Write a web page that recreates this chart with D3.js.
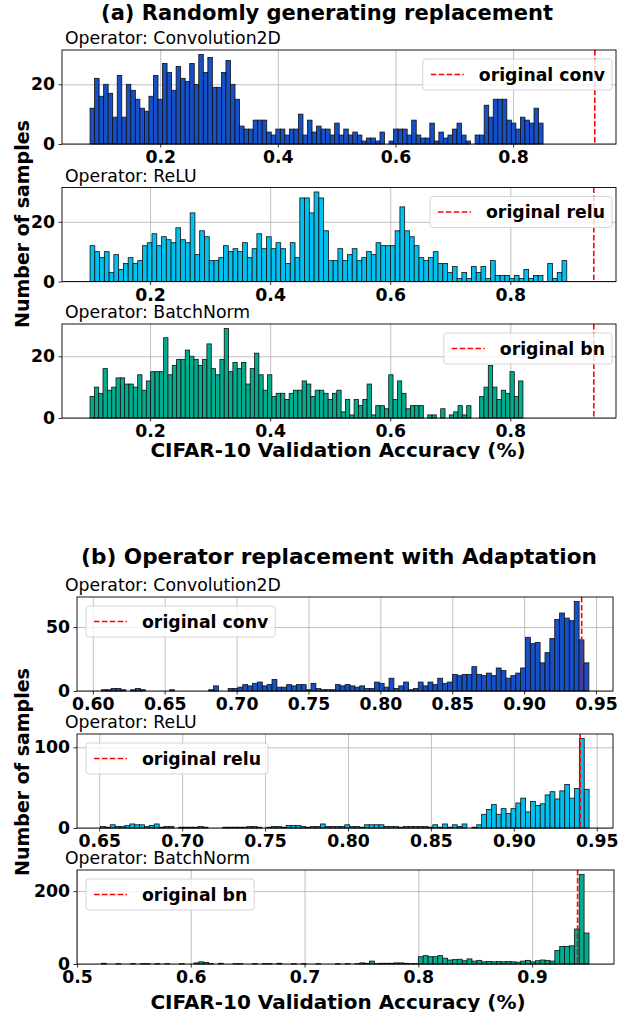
<!DOCTYPE html>
<html>
<head>
<meta charset="utf-8">
<script src="https://cdn.jsdelivr.net/npm/d3@7.9.0/dist/d3.min.js"></script>
<style>
  body { margin: 0; background: #fff; }
  svg { display: block; font-family: "DejaVu Sans", sans-serif; }
</style>
</head>
<body>
<svg id="chart" width="638" height="1014"></svg>
<script>
// histogram counts (100 bins each)
const convRandom = [12,22,16,20,17,9,23,9,20,18,15,12,11,16,23,15,27,24,18,26,22,21,27,20,30,24,29,19,19,24,
  28,20,15,6,5,5,8,8,8,4,3,5,5,3,5,5,10,3,8,4,6,5,5,3,7,3,5,3,4,3,
  1,2,2,1,4,0,1,5,5,5,3,8,3,2,2,7,1,4,2,3,5,7,3,1,0,3,3,13,9,15,
  15,15,8,7,5,9,8,7,12,7];
const reluRandom = [12,10,8,10,3,9,4,6,8,6,7,12,13,16,12,15,14,13,18,14,13,23,9,17,15,7,7,8,12,10,
  11,10,13,8,11,16,11,15,11,13,11,6,13,8,28,28,23,30,28,17,7,7,11,7,9,11,7,8,10,9,
  13,12,12,12,17,25,17,15,12,8,7,8,10,6,6,3,5,1,3,1,5,3,5,1,7,2,2,2,1,2,
  1,4,1,2,2,0,6,1,3,7];
const bnRandom = [7,10,8,16,9,10,13,13,11,11,10,14,9,12,15,15,15,26,14,17,19,19,22,20,19,17,19,24,16,14,
  19,29,15,18,16,18,11,16,21,14,9,14,7,8,8,6,8,9,9,12,11,7,9,9,8,6,8,9,2,6,
  1,6,4,6,11,1,4,4,3,14,6,12,8,3,4,4,4,0,1,1,0,3,0,1,2,4,1,4,0,0,
  7,10,17,10,6,9,8,15,7,12];
const convAdapt = [1,1,2,2,1,0,1,2,1,0,0,0,0,0,1,0,0,0,0,0,0,0,1,4,0,0,2,2,3,5,
  4,6,7,4,5,9,3,3,5,4,5,5,1,6,2,1,1,1,5,4,5,4,3,4,2,2,7,6,3,10,
  2,4,7,1,2,7,4,7,5,10,6,7,13,12,13,13,19,13,12,14,12,18,16,10,12,14,18,42,37,38,
  22,30,41,56,61,57,55,70,40,22];
const reluAdapt = [2,1,4,2,2,3,5,4,4,2,3,5,1,2,2,0,1,1,1,1,2,1,0,0,0,1,1,1,1,1,
  2,2,1,0,1,2,2,1,3,3,3,2,1,2,2,5,2,2,2,2,4,2,2,1,4,4,4,4,2,2,
  2,1,2,2,2,2,2,1,4,1,5,1,4,2,5,0,1,4,17,23,29,17,24,18,24,31,37,20,33,28,
  30,41,45,36,46,54,37,49,111,48];
const bnAdapt = [2,0,0,1,0,0,1,0,1,1,0,1,0,1,0,0,1,0,0,3,6,4,1,0,2,0,0,1,1,0,
  0,1,0,1,1,0,2,0,0,1,0,1,0,0,1,0,0,0,1,0,1,0,1,3,2,8,1,2,2,2,
  3,3,2,1,1,20,23,20,20,23,16,11,12,13,9,14,8,10,6,7,6,7,6,7,6,5,8,10,6,9,
  11,10,8,37,48,48,50,96,246,85];

// accuracy range covered by the bins
const convRandomRange = [0.0807, 0.851];
const reluRandomRange = [0.100, 0.894];
const bnRandomRange = [0.100, 0.821];
const convAdaptRange = [0.606, 0.945];
const reluAdaptRange = [0.6508, 0.9454];
const bnAdaptRange = [0.5214, 0.950];

// original accuracy (red dashed line)
const originalRandom = 0.939;
const originalAdapt = 0.940;

// tick values
const ticksA = [0.2, 0.4, 0.6, 0.8];
const ticksB1 = [0.60, 0.65, 0.70, 0.75, 0.80, 0.85, 0.90, 0.95];
const ticksB2 = [0.65, 0.70, 0.75, 0.80, 0.85, 0.90, 0.95];
const ticksB3 = [0.5, 0.6, 0.7, 0.8, 0.9];

const colors = { conv: "#1650c8", relu: "#00c0f0", bn: "#00ad8e" };

const svg = d3.select("#chart");
const FONT = 17.3;

function drawPanel(p) {
  const g = svg.append("g");
  const x = d3.scaleLinear().domain(p.xDomain).range([p.left, p.right]);
  const y = d3.scaleLinear().domain([0, p.yMax]).range([p.bottom, p.top]);

  // grid lines
  g.append("g")
    .attr("transform", `translate(0,${p.bottom})`)
    .call(d3.axisBottom(x).tickValues(p.xTicks).tickSize(p.top - p.bottom).tickFormat(""))
    .call((a) => a.select(".domain").remove())
    .selectAll("line").attr("stroke", "#b0b0b0").attr("stroke-width", 0.8);
  g.append("g")
    .attr("transform", `translate(${p.left},0)`)
    .call(d3.axisLeft(y).tickValues(p.yTicks).tickSize(p.left - p.right).tickFormat(""))
    .call((a) => a.select(".domain").remove())
    .selectAll("line").attr("stroke", "#b0b0b0").attr("stroke-width", 0.8);

  // bars
  const n = p.counts.length;
  const step = (p.range[1] - p.range[0]) / n;
  g.append("g")
    .selectAll("rect")
    .data(p.counts)
    .join("rect")
    .attr("x", (d, i) => x(p.range[0] + i * step))
    .attr("width", (d, i) => x(p.range[0] + (i + 1) * step) - x(p.range[0] + i * step))
    .attr("y", (d) => y(d))
    .attr("height", (d) => y(0) - y(d))
    .attr("fill", p.color)
    .attr("stroke", "#111")
    .attr("stroke-width", 0.8);

  // original accuracy line
  g.append("line")
    .attr("x1", x(p.original)).attr("x2", x(p.original))
    .attr("y1", p.top).attr("y2", p.bottom)
    .attr("stroke", "#ff0000")
    .attr("stroke-width", 1.6)
    .attr("stroke-dasharray", "5.5,2.4");

  // frame
  g.append("rect")
    .attr("x", p.left).attr("y", p.top)
    .attr("width", p.right - p.left).attr("height", p.bottom - p.top)
    .attr("fill", "none").attr("stroke", "#000").attr("stroke-width", 0.9);

  // axes
  const ax = g.append("g")
    .attr("transform", `translate(0,${p.bottom})`)
    .call(d3.axisBottom(x).tickValues(p.xTicks).tickSize(3.5).tickPadding(3.5).tickFormat(d3.format(p.xFormat)));
  const ay = g.append("g")
    .attr("transform", `translate(${p.left},0)`)
    .call(d3.axisLeft(y).tickValues(p.yTicks).tickSize(3.5).tickPadding(3.5).tickFormat(d3.format("d")));
  [ax, ay].forEach((a) => {
    a.select(".domain").remove();
    a.selectAll("line").attr("stroke", "#000").attr("stroke-width", 0.8);
    a.selectAll("text")
      .attr("fill", "#000")
      .style("font-size", FONT + "px")
      .style("font-weight", "bold")
      .style("font-family", "DejaVu Sans");
  });

  // operator title
  g.append("text")
    .attr("x", 65).attr("y", p.top - 6)
    .style("font-size", FONT + "px")
    .text(p.title);

  // legend
  const lg = g.append("g");
  const label = lg.append("text")
    .style("font-size", FONT + "px")
    .style("font-weight", "bold")
    .text(p.legend);
  const tw = label.node().getComputedTextLength();
  const bw = 8 + 33 + 15 + tw + 7;
  const bh = 31;
  const bx = p.legendSide === "right" ? p.right - 4 - bw : p.left + 9;
  const by = p.top + 9;
  lg.insert("rect", "text")
    .attr("x", bx).attr("y", by).attr("width", bw).attr("height", bh)
    .attr("rx", 3)
    .attr("fill", "#fff").attr("fill-opacity", 0.8)
    .attr("stroke", "#d0d0d0").attr("stroke-width", 0.9);
  lg.append("line")
    .attr("x1", bx + 8).attr("x2", bx + 41)
    .attr("y1", by + bh / 2).attr("y2", by + bh / 2)
    .attr("stroke", "#ff0000").attr("stroke-width", 1.6)
    .attr("stroke-dasharray", "5.5,2.4");
  label.attr("x", bx + 56).attr("y", by + bh / 2 + 6);
}

const panels = [
  { title: "Operator: Convolution2D", counts: convRandom, range: convRandomRange, color: colors.conv,
    legend: "original conv", original: originalRandom, xDomain: [0.033, 0.975], xTicks: ticksA, xFormat: ".1f",
    yMax: 31.5, yTicks: [0, 20], left: 62, right: 616, top: 50, bottom: 144, legendSide: "right" },
  { title: "Operator: ReLU", counts: reluRandom, range: reluRandomRange, color: colors.relu,
    legend: "original relu", original: originalRandom, xDomain: [0.0533, 0.976], xTicks: ticksA, xFormat: ".1f",
    yMax: 31.5, yTicks: [0, 20], left: 62, right: 616, top: 187.5, bottom: 281.5, legendSide: "right" },
  { title: "Operator: BatchNorm", counts: bnRandom, range: bnRandomRange, color: colors.bn,
    legend: "original bn", original: originalRandom, xDomain: [0.0533, 0.976], xTicks: ticksA, xFormat: ".1f",
    yMax: 30.45, yTicks: [0, 20], left: 62, right: 616, top: 324, bottom: 418, legendSide: "right" },
  { title: "Operator: Convolution2D", counts: convAdapt, range: convAdaptRange, color: colors.conv,
    legend: "original conv", original: originalAdapt, xDomain: [0.589, 0.9618], xTicks: ticksB1, xFormat: ".2f",
    yMax: 73.5, yTicks: [0, 50], left: 77, right: 613, top: 597, bottom: 691, legendSide: "left" },
  { title: "Operator: ReLU", counts: reluAdapt, range: reluAdaptRange, color: colors.relu,
    legend: "original relu", original: originalAdapt, xDomain: [0.6366, 0.9598], xTicks: ticksB2, xFormat: ".2f",
    yMax: 116.5, yTicks: [0, 100], left: 77, right: 613, top: 734, bottom: 828, legendSide: "left" },
  { title: "Operator: BatchNorm", counts: bnAdapt, range: bnAdaptRange, color: colors.bn,
    legend: "original bn", original: originalAdapt, xDomain: [0.5, 0.972], xTicks: ticksB3, xFormat: ".1f",
    yMax: 258, yTicks: [0, 200], left: 77, right: 614, top: 870, bottom: 964, legendSide: "left" },
];

panels.forEach(drawPanel);

// section titles and shared labels
const bold = (sel, size) => sel.style("font-size", size + "px").style("font-weight", "bold");
bold(svg.append("text").attr("x", 327).attr("y", 20).attr("text-anchor", "middle"), 21)
  .text("(a) Randomly generating replacement");
bold(svg.append("text").attr("x", 339).attr("y", 564).attr("text-anchor", "middle"), 21.6)
  .text("(b) Operator replacement with Adaptation");

bold(svg.append("text").attr("transform", "translate(29,224) rotate(-90)").attr("text-anchor", "middle"), 19)
  .text("Number of samples");
bold(svg.append("text").attr("transform", "translate(29,772) rotate(-90)").attr("text-anchor", "middle"), 19)
  .text("Number of samples");

// x labels, cut just under the baseline as in the picture
const defs = svg.append("defs");
defs.append("clipPath").attr("id", "cutA").append("rect").attr("x", 0).attr("y", 430).attr("width", 638).attr("height", 29);
defs.append("clipPath").attr("id", "cutB").append("rect").attr("x", 0).attr("y", 985).attr("width", 638).attr("height", 27);
bold(svg.append("text").attr("x", 338).attr("y", 457).attr("text-anchor", "middle").attr("clip-path", "url(#cutA)"), 20)
  .text("CIFAR-10 Validation Accuracy (%)");
bold(svg.append("text").attr("x", 338).attr("y", 1009).attr("text-anchor", "middle").attr("clip-path", "url(#cutB)"), 20)
  .text("CIFAR-10 Validation Accuracy (%)");
</script>
</body>
</html>
